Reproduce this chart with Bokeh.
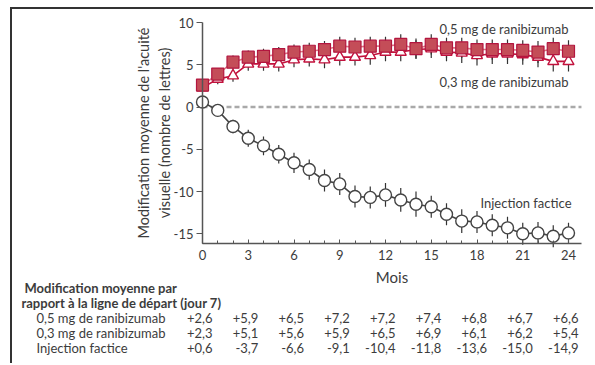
from bokeh.plotting import figure
from bokeh.models import Range1d, FixedTicker, Label
from bokeh.embed import file_html
from bokeh.resources import INLINE

# ---------------- data ----------------
months = list(range(25))
dose05 = [2.6, 3.9, 5.3, 5.9, 6.0, 6.2, 6.5, 6.6, 6.8, 7.2, 7.1, 7.2, 7.2, 7.4, 6.9, 7.4,
          7.0, 7.0, 6.8, 6.8, 6.8, 6.7, 6.5, 6.9, 6.6]
dose03 = [2.3, 3.3, 3.7, 5.1, 5.1, 5.1, 5.6, 5.7, 5.6, 5.9, 5.9, 6.1, 6.5, 6.5, 6.8, 6.9,
          6.5, 6.4, 6.1, 6.3, 6.3, 6.2, 5.9, 5.4, 5.4]
sham = [0.6, -0.4, -2.3, -3.7, -4.6, -5.6, -6.6, -7.4, -8.7, -9.1, -10.6, -10.7, -10.4,
        -11.0, -11.5, -11.8, -12.7, -13.5, -13.6, -14.0, -14.3, -15.0, -14.9, -15.3, -14.9]
err05 = [0.4, 0.7, 0.8, 0.8, 0.9, 0.9, 0.9, 1.0, 1.0, 1.1, 1.1, 1.1, 1.1, 1.2, 1.2, 1.2,
         1.2, 1.2, 1.2, 1.2, 1.2, 1.2, 1.3, 1.3, 1.3]
err03 = [0.4, 0.6, 0.7, 0.8, 0.8, 0.9, 0.9, 0.9, 1.0, 1.0, 1.0, 1.1, 1.1, 1.1, 1.1, 1.1,
         1.1, 1.2, 1.2, 1.2, 1.2, 1.2, 1.2, 1.2, 1.2]
errsham = [0.3, 0.6, 0.8, 1.0, 1.1, 1.1, 1.2, 1.2, 1.3, 1.3, 1.3, 1.3, 1.4, 1.4, 1.5, 1.3,
           1.3, 1.4, 1.3, 1.3, 1.3, 1.3, 1.3, 1.3, 1.2]

x_ticks = [0, 3, 6, 9, 12, 15, 18, 21, 24]
y_ticks = [-15, -10, -5, 0, 5, 10]
y_tick_labels = ["-15", "-10", "-5", "0", "5", "10"]

series_names = ["0,5 mg de ranibizumab", "0,3 mg de ranibizumab", "Injection factice"]
table_header = ["Modification moyenne par", "rapport à la ligne de départ (jour 7)"]
table_months = [0, 3, 6, 9, 12, 15, 18, 21, 24]
table05 = ["+2,6", "+5,9", "+6,5", "+7,2", "+7,2", "+7,4", "+6,8", "+6,7", "+6,6"]
table03 = ["+2,3", "+5,1", "+5,6", "+5,9", "+6,5", "+6,9", "+6,1", "+6,2", "+5,4"]
tablesham = ["+0,6", "-3,7", "-6,6", "-9,1", "-10,4", "-11,8", "-13,6", "-15,0", "-14,9"]

# ---------------- style / layout ----------------
FONT = "Lato"
TXT = "#3c3c3c"
AXC = "#555555"
RED_LINE05 = "#dc7482"
RED_FILL = "#c44d58"
RED_EDGE = "#b3163f"
RED_LINE03 = "#c2123d"
GREY = "#444444"
FS = "13px"

W, H = 583, 356            # canvas size in px
X0_PX, X_PX = 190, 15.25   # canvas x of month 0, px per month
Y0_PX, Y_PX = 97.5, 8.45   # canvas y of value 0, px per unit
AXIS_X_END = 24.85
AXIS_Y_TOP = 10
AXIS_Y_BOTTOM = -16.2

x_range = Range1d(-X0_PX / X_PX, (W - X0_PX) / X_PX)
y_range = Range1d(-(H - Y0_PX) / Y_PX, Y0_PX / Y_PX)

p = figure(width=W, height=H, x_range=x_range, y_range=y_range,
           output_backend="svg", toolbar_location=None, title=None,
           min_border=0, min_border_left=0, min_border_right=0,
           min_border_top=0, min_border_bottom=0)
p.outline_line_color = None
p.grid.visible = False
p.background_fill_color = "white"
p.border_fill_color = "white"
p.styles = {"border-top": "2px solid #333333", "border-left": "2px solid #333333",
            "margin-left": "10px", "margin-top": "7px"}

xa = p.xaxis[0]
xa.fixed_location = AXIS_Y_BOTTOM
xa.bounds = (0, AXIS_X_END)
xa.ticker = FixedTicker(ticks=x_ticks, minor_ticks=months)
xa.major_tick_in = 4
xa.major_tick_out = 0
xa.minor_tick_in = 3
xa.minor_tick_out = 0
xa.axis_line_color = AXC
xa.axis_line_width = 1.5
xa.major_tick_line_color = AXC
xa.minor_tick_line_color = AXC
xa.major_label_text_font = FONT
xa.major_label_text_font_size = "13px"
xa.major_label_text_color = TXT
xa.major_label_standoff = 6
xa.axis_label = "Mois"
xa.axis_label_text_font = FONT
xa.axis_label_text_font_style = "normal"
xa.axis_label_text_font_size = "15px"
xa.axis_label_text_color = TXT
xa.axis_label_standoff = 5

ya = p.yaxis[0]
ya.fixed_location = 0
ya.bounds = (AXIS_Y_BOTTOM, AXIS_Y_TOP)
ya.ticker = FixedTicker(ticks=y_ticks)
ya.major_label_overrides = {t: s for t, s in zip(y_ticks, y_tick_labels)}
ya.minor_tick_line_color = None
ya.major_tick_in = 0
ya.major_tick_out = 6
ya.axis_line_color = AXC
ya.axis_line_width = 1.5
ya.major_tick_line_color = AXC
ya.major_label_text_font = FONT
ya.major_label_text_font_size = "13px"
ya.major_label_text_color = TXT
ya.major_label_standoff = 3
ya.axis_label = "Modification moyenne de l'acuité\nvisuelle (nombre de lettres)"
ya.axis_label_text_font = FONT
ya.axis_label_text_font_style = "normal"
ya.axis_label_text_font_size = "14.5px"
ya.axis_label_text_color = TXT
ya.axis_label_standoff = -2

# zero reference line along the axis extent
p.line(x=[0, AXIS_X_END], y=[0, 0], line_color="#a9a9a9", line_width=2.5, line_dash="5 3")

# error bars
for vals, errs in ((sham, errsham), (dose03, err03), (dose05, err05)):
    lo = [v - e for v, e in zip(vals, errs)]
    hi = [v + e for v, e in zip(vals, errs)]
    p.segment(x0=months, y0=lo, x1=months, y1=hi, line_color="#333333", line_width=1.2)

# sham
p.line(months, sham, line_color=GREY, line_width=1.6)
p.scatter(months, sham, marker="circle", size=12, fill_color="white",
          line_color=GREY, line_width=1.4)
# 0.3 mg
p.line(months, dose03, line_color=RED_LINE03, line_width=1.6)
p.scatter(months, dose03, marker="triangle", size=11, fill_color="white",
          line_color=RED_LINE03, line_width=1.4)
# 0.5 mg
p.line(months, dose05, line_color=RED_LINE05, line_width=1.6)
p.scatter(months, dose05, marker="square", size=12, fill_color=RED_FILL,
          line_color=RED_EDGE, line_width=1.2)

# series annotations
for name, yv, xo in zip(series_names, [9.2, 2.9, -11.4], [0, 0, 3]):
    p.add_layout(Label(x=months[-1], y=yv, x_offset=xo, text=name, text_align="right",
                       text_baseline="middle", text_font=FONT, text_font_size=FS,
                       text_color=TXT))

# table below the chart
for i, line in enumerate(table_header):
    p.add_layout(Label(x=0, y=AXIS_Y_BOTTOM, x_offset=-178 - 3 * i, y_offset=-44 - 15 * i,
                       text=line, text_align="left", text_baseline="middle",
                       text_font=FONT, text_font_size=FS, text_font_style="bold",
                       text_color=TXT))
for r, (name, row) in enumerate(zip(series_names, [table05, table03, tablesham])):
    yo = -74 - 15 * r
    p.add_layout(Label(x=0, y=AXIS_Y_BOTTOM, x_offset=-166, y_offset=yo, text=name,
                       text_align="left", text_baseline="middle", text_font=FONT,
                       text_font_size=FS, text_color=TXT))
    for m, s in zip(table_months, row):
        p.add_layout(Label(x=m, y=AXIS_Y_BOTTOM, x_offset=10, y_offset=yo, text=s,
                           text_align="right", text_baseline="middle", text_font=FONT,
                           text_font_size=FS, text_color=TXT))

open("out.html", "w").write(file_html(p, INLINE))
